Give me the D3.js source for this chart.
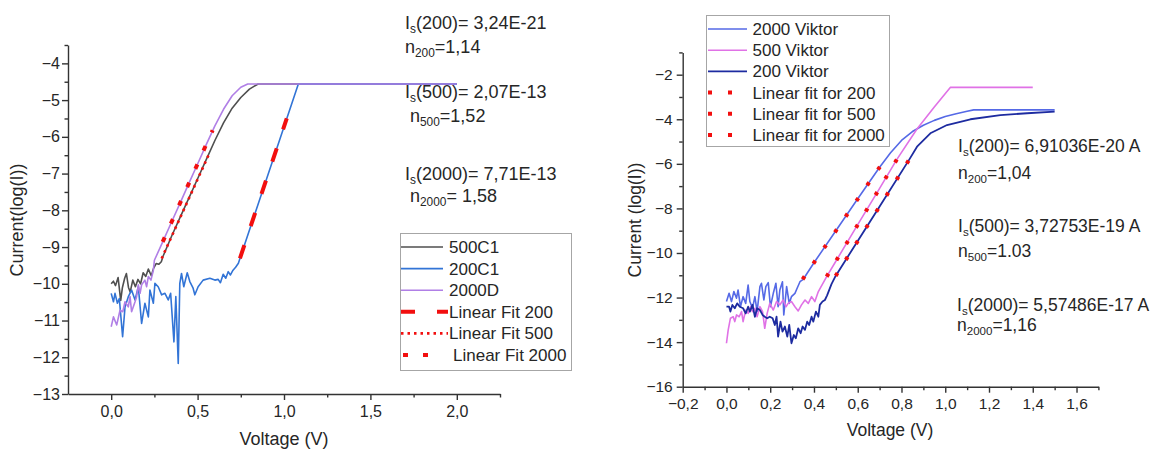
<!DOCTYPE html>
<html>
<head>
<meta charset="utf-8">
<script src="https://cdn.jsdelivr.net/npm/d3@7"></script>
<style>
  body { margin: 0; background: #fff; }
  svg text { font-family: "Liberation Sans", Arial, Helvetica, sans-serif; fill: #262626; }
</style>
</head>
<body>
<svg id="chart" width="1155" height="450"></svg>
<script>
// ---------- left panel data ----------
var leftNames = ["500C1", "200C1", "2000D", "Linear Fit 200", "Linear Fit 500", "Linear Fit 2000"];

var x500C1 = [0, 0.013, 0.025, 0.04, 0.055, 0.065, 0.078, 0.088, 0.1, 0.11, 0.125, 0.14, 0.155, 0.17, 0.185, 0.2, 0.215, 0.232, 0.245, 0.26, 0.275, 0.29, 0.3, 0.35, 0.4, 0.45, 0.5, 0.55, 0.6, 0.65, 0.7, 0.75, 0.8, 0.85, 2.0];
var y500C1 = [-10.0, -9.93, -10.05, -9.83, -10.45, -10.1, -9.85, -9.72, -10.1, -10.22, -9.9, -10.08, -9.88, -10.0, -9.7, -9.8, -9.6, -9.78, -9.58, -9.45, -9.47, -9.4, -9.25, -8.7, -8.18, -7.66, -7.14, -6.62, -6.1, -5.62, -5.22, -4.93, -4.7, -4.56, -4.56];

var x200C1 = [0, 0.013, 0.022, 0.036, 0.047, 0.066, 0.08, 0.099, 0.118, 0.138, 0.157, 0.176, 0.195, 0.215, 0.224, 0.244, 0.253, 0.272, 0.292, 0.311, 0.33, 0.344, 0.363, 0.374, 0.388, 0.397, 0.407, 0.42, 0.44, 0.455, 0.474, 0.484, 0.503, 0.532, 0.571, 0.6, 0.619, 0.632, 0.648, 0.663, 0.677, 0.69, 0.705, 0.72, 0.736, 1.083, 2.0];
var y200C1 = [-10.26, -10.49, -10.26, -10.53, -10.4, -11.44, -10.63, -10.35, -10.17, -10.44, -10.08, -11.08, -10.53, -10.9, -10.17, -10.53, -9.99, -10.08, -10.3, -10.26, -10.44, -10.26, -11.58, -10.35, -12.17, -9.99, -9.72, -10.08, -9.7, -9.94, -10.12, -10.3, -10.08, -9.9, -9.85, -9.9, -9.88, -9.97, -9.74, -9.85, -9.67, -9.76, -9.63, -9.55, -9.44, -4.56, -4.56];

var x2000D = [0, 0.013, 0.032, 0.051, 0.067, 0.08, 0.099, 0.109, 0.118, 0.138, 0.147, 0.157, 0.167, 0.176, 0.195, 0.205, 0.215, 0.23, 0.244, 0.25, 0.3, 0.35, 0.4, 0.45, 0.5, 0.55, 0.6, 0.65, 0.7, 0.75, 0.79, 2.0];
var y2000D = [-11.17, -10.9, -11.12, -10.72, -10.76, -10.49, -10.63, -10.35, -10.76, -10.49, -10.35, -10.03, -10.26, -10.03, -9.9, -10.08, -9.8, -9.9, -9.63, -9.36, -8.84, -8.31, -7.79, -7.26, -6.74, -6.21, -5.7, -5.25, -4.88, -4.65, -4.56, -4.56];

var xFitL200 = [0.745, 1.016], yFitL200 = [-9.31, -5.5];
var xFitL500 = [0.292, 0.572], yFitL500 = [-9.31, -6.41];
var xFitL2000 = [0.298, 0.587], yFitL2000 = [-8.86, -5.82];

var leftXTicks = [0, 0.5, 1, 1.5, 2];
var leftXMinor = [0.25, 0.75, 1.25, 1.75, 2.25];
var leftYTicks = [-13, -12, -11, -10, -9, -8, -7, -6, -5, -4];
var leftYMinor = [-12.5, -11.5, -10.5, -9.5, -8.5, -7.5, -6.5, -5.5, -4.5, -3.5];

var leftNotes = [
  ["I", "s", "(200)= 3,24E-21"],
  ["n", "200", "=1,14"],
  ["I", "s", "(500)= 2,07E-13"],
  ["n", "500", "=1,52"],
  ["I", "s", "(2000)= 7,71E-13"],
  ["n", "2000", "= 1,58"]
];

// ---------- right panel data ----------
var rightNames = ["2000 Viktor", "500 Viktor", "200 Viktor", "Linear fit for 200", "Linear fit for 500", "Linear fit for 2000"];

var xV2000 = [0, 0.012, 0.023, 0.034, 0.046, 0.053, 0.064, 0.076, 0.088, 0.099, 0.107, 0.119, 0.13, 0.14, 0.153, 0.16, 0.171, 0.18, 0.191, 0.201, 0.214, 0.226, 0.236, 0.244, 0.256, 0.262, 0.275, 0.287, 0.297, 0.313, 0.323, 0.336, 0.351, 0.4, 0.5, 0.6, 0.7, 0.75, 0.8, 0.85, 0.9, 0.95, 1.0, 1.05, 1.1, 1.13, 1.5];
var yV2000 = [-12.18, -11.81, -12.18, -11.73, -12.03, -11.66, -12.41, -11.96, -12.26, -11.44, -12.18, -12.48, -11.96, -12.63, -11.51, -11.36, -12.11, -11.51, -11.33, -12.41, -11.81, -11.36, -12.41, -11.66, -11.29, -12.78, -11.51, -12.26, -11.96, -11.81, -11.58, -11.29, -11.18, -10.44, -9.0, -7.57, -6.15, -5.5, -4.95, -4.55, -4.27, -4.05, -3.88, -3.75, -3.64, -3.58, -3.58];

var xV500 = [0, 0.008, 0.018, 0.031, 0.038, 0.046, 0.058, 0.069, 0.076, 0.088, 0.099, 0.11, 0.119, 0.13, 0.14, 0.153, 0.165, 0.175, 0.186, 0.198, 0.214, 0.229, 0.244, 0.259, 0.272, 0.282, 0.297, 0.313, 0.328, 0.343, 0.359, 0.374, 0.389, 0.404, 0.42, 0.43, 0.458, 0.5, 0.6, 0.7, 0.779, 0.87, 0.95, 1.023, 1.4];
var yV500 = [-14.05, -13.45, -12.93, -12.86, -13.08, -12.78, -12.86, -12.63, -13.08, -12.56, -12.71, -12.41, -12.63, -12.48, -12.86, -12.41, -12.63, -13.38, -12.71, -12.26, -12.56, -12.18, -12.33, -12.11, -12.41, -12.26, -12.18, -12.41, -12.6, -12.33, -12.11, -12.26, -11.96, -12.18, -11.73, -11.55, -11.06, -10.37, -8.73, -7.1, -5.8, -4.45, -3.45, -2.57, -2.57];

var xV200 = [0, 0.012, 0.018, 0.027, 0.038, 0.049, 0.061, 0.076, 0.088, 0.099, 0.107, 0.119, 0.13, 0.14, 0.153, 0.165, 0.175, 0.186, 0.198, 0.211, 0.221, 0.229, 0.236, 0.247, 0.256, 0.267, 0.278, 0.287, 0.297, 0.308, 0.317, 0.328, 0.339, 0.348, 0.359, 0.369, 0.378, 0.389, 0.397, 0.409, 0.42, 0.427, 0.439, 0.45, 0.46, 0.48, 0.499, 0.6, 0.7, 0.836, 0.871, 0.932, 1.008, 1.115, 1.252, 1.374, 1.5];
var yV200 = [-12.41, -12.41, -12.63, -12.33, -12.48, -12.26, -12.41, -12.48, -12.71, -12.41, -12.63, -12.33, -12.86, -12.48, -12.56, -12.78, -12.86, -12.93, -12.86, -12.93, -13.23, -12.86, -13.75, -13.08, -13.53, -13.3, -13.75, -13.23, -14.05, -13.68, -13.83, -13.38, -13.6, -13.3, -13.45, -13.08, -13.23, -12.86, -13.08, -12.63, -12.86, -12.33, -12.18, -12.11, -11.9, -11.4, -11.03, -9.46, -7.91, -5.8, -5.23, -4.63, -4.26, -4.0, -3.81, -3.73, -3.66];

var xFitR200 = [0.499, 0.836], yFitR200 = [-11.03, -5.8];
var xFitR500 = [0.458, 0.779], yFitR500 = [-11.06, -5.8];
var xFitR2000 = [0.348, 0.709], yFitR2000 = [-11.18, -6.02];

var rightXTicks = [-0.2, 0, 0.2, 0.4, 0.6, 0.8, 1.0, 1.2, 1.4, 1.6];
var rightXMinor = [-0.1, 0.1, 0.3, 0.5, 0.7, 0.9, 1.1, 1.3, 1.5, 1.7];
var rightYTicks = [-16, -14, -12, -10, -8, -6, -4, -2];
var rightYMinor = [-15, -13, -11, -9, -7, -5, -3, -1];

var rightNotes = [
  ["I", "s", "(200)= 6,91036E-20 A"],
  ["n", "200", "=1,04"],
  ["I", "s", "(500)= 3,72753E-19 A"],
  ["n", "500", "=1.03"],
  ["I", "s", "(2000)= 5,57486E-17 A"],
  ["n", "2000", "=1,16"]
];

// ---------- helpers ----------
var svg = d3.select("#chart");
var AX = "#333";

function pts(xs, ys) { return xs.map(function (v, i) { return [v, ys[i]]; }); }

function commaFmt(d) { return d3.format(".1f")(d).replace(".", ","); }
function intFmt(d) { return d3.format("d")(d); }

function drawAxes(x, y, o) {
  var y0 = y.range()[0], x0 = x.range()[0];
  var g = svg.append("g");
  g.append("g").attr("transform", "translate(0," + y0 + ")")
    .call(d3.axisBottom(x).tickValues(o.xt).tickSize(6).tickSizeOuter(0).tickPadding(o.xpad).tickFormat(commaFmt));
  var xm = g.append("g").attr("transform", "translate(0," + y0 + ")")
    .call(d3.axisBottom(x).tickValues(o.xm).tickSize(3.5).tickSizeOuter(0).tickFormat(""));
  g.append("g").attr("transform", "translate(" + x0 + ",0)")
    .call(d3.axisLeft(y).tickValues(o.yt).tickSize(6).tickSizeOuter(0).tickPadding(o.ypad).tickFormat(intFmt));
  var ym = g.append("g").attr("transform", "translate(" + x0 + ",0)")
    .call(d3.axisLeft(y).tickValues(o.ym).tickSize(3.5).tickSizeOuter(0).tickFormat(""));
  xm.select(".domain").remove();
  ym.select(".domain").remove();
  g.selectAll(".domain").attr("stroke", AX).attr("stroke-width", 1.4);
  g.selectAll(".tick line").attr("stroke", AX).attr("stroke-width", 1.4);
  g.selectAll(".tick text").attr("font-size", o.fs).attr("fill", "#262626")
    .style("font-family", '"Liberation Sans", Arial, sans-serif');

  svg.append("text").attr("x", o.xtitle[0]).attr("y", o.xtitle[1])
    .attr("text-anchor", "middle").attr("font-size", o.tfs).text("Voltage (V)");
  svg.append("text").attr("transform", "translate(" + o.ytitle[0] + "," + o.ytitle[1] + ") rotate(-90)")
    .attr("text-anchor", "middle").attr("font-size", o.tfs).text(o.ylabel);
}

function drawLine(x, y, data, color, width, dash) {
  var line = d3.line().x(function (d) { return x(d[0]); }).y(function (d) { return y(d[1]); });
  svg.append("path").datum(data).attr("d", line)
    .attr("fill", "none").attr("stroke", color).attr("stroke-width", width)
    .attr("stroke-linejoin", "round")
    .attr("stroke-dasharray", dash || null);
}

function drawNotes(notes, xs, ys, fs) {
  notes.forEach(function (n, i) {
    var t = svg.append("text").attr("x", xs[i]).attr("y", ys[i]).attr("font-size", fs);
    t.append("tspan").text(n[0]);
    t.append("tspan").attr("font-size", fs * 0.66).attr("dy", 4).text(n[1]);
    t.append("tspan").attr("dy", -4).text(n[2]);
  });
}

function drawLegend(box, rows, names, styles, fs) {
  svg.append("rect").attr("x", box[0]).attr("y", box[1]).attr("width", box[2]).attr("height", box[3])
    .attr("fill", "#fff").attr("stroke", "#a6a6a6").attr("stroke-width", 1);
  names.forEach(function (nm, i) {
    var s = styles[i];
    svg.append("line").attr("x1", s.x1).attr("x2", s.x2)
      .attr("y1", rows[i]).attr("y2", rows[i])
      .attr("stroke", s.color).attr("stroke-width", s.width)
      .attr("stroke-dasharray", s.dash || null);
    svg.append("text").attr("x", s.tx).attr("y", rows[i] + 6).attr("font-size", fs).text(nm);
  });
}

// ---------- left panel ----------
var xL = d3.scaleLinear().domain([-0.25, 2.25]).range([68, 500]);
var yL = d3.scaleLinear().domain([-13, -3.5]).range([394, 45]);

var cGray = "#4f4f4f", cBlue = "#3274d6", cPurple = "#b07fe6", cRed = "#f20f0f";

drawLine(xL, yL, pts(x500C1, y500C1), cGray, 1.6);
drawLine(xL, yL, pts(x200C1, y200C1), cBlue, 1.6);
drawLine(xL, yL, pts(x2000D, y2000D), cPurple, 1.6);
drawLine(xL, yL, pts(xFitL200, yFitL200), cRed, 4, "14,20");
drawLine(xL, yL, pts(xFitL500, yFitL500), cRed, 2.6, "2.5,4");
drawLine(xL, yL, pts(xFitL2000, yFitL2000), cRed, 4, "5,15");

drawAxes(xL, yL, {
  xt: leftXTicks, xm: leftXMinor, yt: leftYTicks, ym: leftYMinor,
  xpad: 6, ypad: 2, fs: 16, tfs: 18,
  xtitle: [284, 445], ytitle: [23, 220], ylabel: "Current(log(I))"
});

drawNotes(leftNotes, [405, 405, 405, 410, 405, 410], [28.5, 52.5, 97.5, 122, 180, 201.5], 18);

drawLegend([400.5, 233.5, 171, 137], [247, 268.6, 290.2, 311.8, 333.4, 355], leftNames, [
  { color: cGray, width: 1.6, x1: 401, x2: 443, tx: 449 },
  { color: cBlue, width: 1.6, x1: 401, x2: 443, tx: 449 },
  { color: cPurple, width: 1.6, x1: 401, x2: 443, tx: 449 },
  { color: cRed, width: 4, dash: "14,22", x1: 401, x2: 448, tx: 449 },
  { color: cRed, width: 2.6, dash: "2.5,4", x1: 401, x2: 448, tx: 449 },
  { color: cRed, width: 4, dash: "5,15", x1: 403, x2: 430, tx: 453 }
], 17);

// ---------- right panel ----------
var xR = d3.scaleLinear().domain([-0.2, 1.7]).range([682.7, 1098.4]);
var yR = d3.scaleLinear().domain([-16, -1]).range([386.7, 52.4]);

var cV2000 = "#5569e6", cV500 = "#e072e6", cV200 = "#1d2ba0";

drawLine(xR, yR, pts(xV2000, yV2000), cV2000, 1.6);
drawLine(xR, yR, pts(xV500, yV500), cV500, 1.6);
drawLine(xR, yR, pts(xV200, yV200), cV200, 1.8);
drawLine(xR, yR, pts(xFitR200, yFitR200), cRed, 4, "3.5,15.5");
drawLine(xR, yR, pts(xFitR500, yFitR500), cRed, 4, "3.5,15.5");
drawLine(xR, yR, pts(xFitR2000, yFitR2000), cRed, 4, "3.5,15.5");

drawAxes(xR, yR, {
  xt: rightXTicks, xm: rightXMinor, yt: rightYTicks, ym: rightYMinor,
  xpad: 5, ypad: 4, fs: 15.5, tfs: 17.5,
  xtitle: [890, 436], ytitle: [641, 220], ylabel: "Current (log(I))"
});

drawNotes(rightNotes, [958, 958, 958, 958, 957, 957], [152.3, 178.5, 231.7, 256.5, 310.7, 331], 17.5);

drawLegend([706.5, 15.5, 183, 131], [29, 50.2, 71.4, 92.6, 113.8, 135], rightNames, [
  { color: cV2000, width: 1.6, x1: 708, x2: 747, tx: 752.5 },
  { color: cV500, width: 1.6, x1: 708, x2: 747, tx: 752.5 },
  { color: cV200, width: 1.8, x1: 708, x2: 747, tx: 752.5 },
  { color: cRed, width: 4, dash: "4,16", x1: 708, x2: 733, tx: 752.5 },
  { color: cRed, width: 4, dash: "4,16", x1: 708, x2: 733, tx: 752.5 },
  { color: cRed, width: 4, dash: "4,16", x1: 708, x2: 733, tx: 752.5 }
], 17);
</script>
</body>
</html>
